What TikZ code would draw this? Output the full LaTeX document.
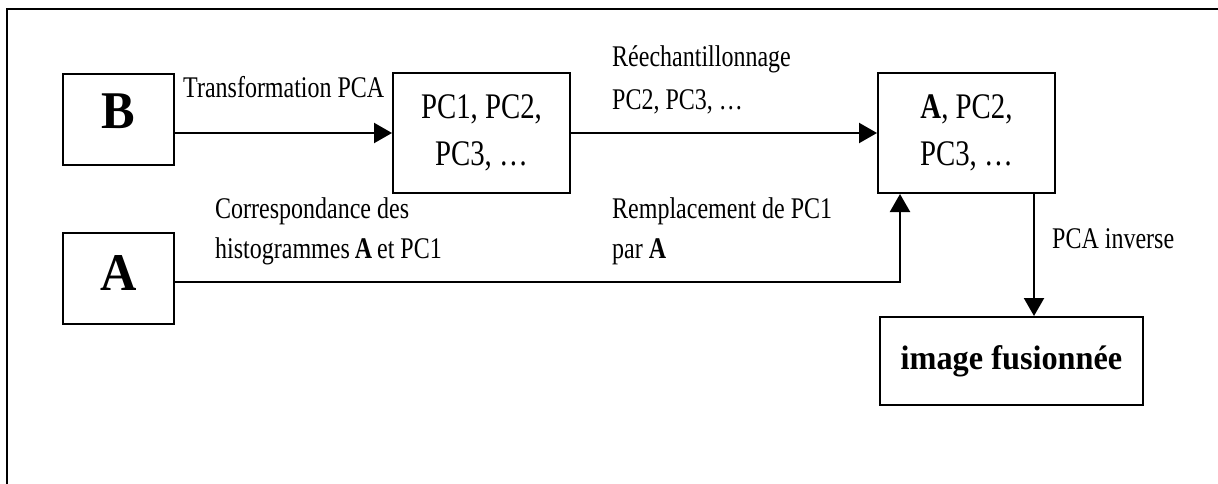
\documentclass[tikz,border=0pt]{standalone}
\usepackage{fontspec}
\setmainfont{Liberation Serif}[FakeStretch=0.8]
\newfontfamily\widefont{Liberation Serif}[FakeStretch=0.95]
\usetikzlibrary{arrows.meta}
\begin{document}
\begin{tikzpicture}[x=1pt,y=-1pt,
  box/.style={draw, line width=2pt, inner sep=0pt, align=center},
  boxtext/.style={font=\fontsize{36}{47}\selectfont},
  letter/.style={font=\widefont\fontsize{53}{53}\selectfont\bfseries},
  lbl/.style={anchor=base west, inner sep=0pt, font=\fontsize{30}{40}\selectfont},
  arr/.style={line width=2.2pt, -{Triangle[length=18pt,width=20pt]}}]
\useasboundingbox (0,0) rectangle (1218,484);
% frame (top and left edges)
\draw[line width=2.5pt] (7,484) -- (7,9) -- (1218,9);

% boxes
\node[box, letter, minimum width=111pt, minimum height=91pt, text depth=16pt] (b) at (118.5,119.5) {B};
\node[box, letter, minimum width=111pt, minimum height=91pt, text depth=10pt] (a) at (118.5,278.5) {A};
\node[box, boxtext, minimum width=177pt, minimum height=120pt] (pc) at (481.5,133) {PC1, PC2,\\PC3, …};
\node[box, boxtext, minimum width=177pt, minimum height=120pt] (apc) at (966.5,133) {\textbf{A}, PC2,\\PC3, …};
\node[box, font=\widefont\fontsize{34}{34}\selectfont\bfseries, minimum width=263pt, minimum height=88pt] (fus) at (1011.5,361) {image fusionnée};

% connectors
\draw[arr] (b.east |- pc.west) -- (pc.west);
\draw[arr] (pc.east) -- (apc.west);
\draw[arr] (a.east |- 0,282) -| ([xshift=23pt]apc.south west);
\draw[arr] ([xshift=-22pt]apc.south east) -- ([xshift=-22pt]apc.south east |- fus.north);

% labels
\node[lbl] (t1) at (183,98) {Transformation PCA};
\node[lbl] (t2) at (215,218) {Correspondance des};
\node[lbl] (t3) at (215,258) {histogrammes\,\textbf{A}\,et PC1};
\node[lbl] (t4) at (612,67) {Réechantillonnage};
\node[lbl] (t5) at (612,110) {PC2, PC3, …};
\node[lbl] (t6) at (612,218) {Remplacement de PC1};
\node[lbl] (t7) at (612,258) {par \textbf{A}};
\node[lbl] (t8) at (1052,248) {PCA inverse};
\end{tikzpicture}
\end{document}
